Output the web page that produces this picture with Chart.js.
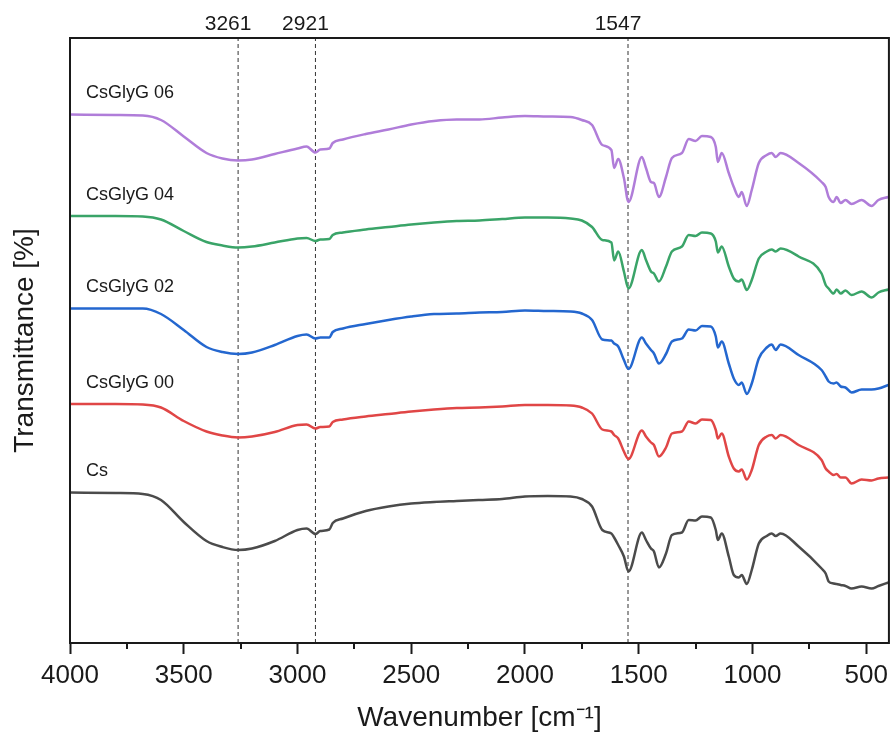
<!DOCTYPE html>
<html>
<head>
<meta charset="utf-8">
<script src="https://cdn.jsdelivr.net/npm/chart.js@4.4.1/dist/chart.umd.min.js"></script>
<style>
  html, body { margin: 0; padding: 0; background: #fff; }
  #wrap { width: 894px; height: 740px; }
</style>
</head>
<body>
<div id="wrap"><canvas id="chart"></canvas></div>
<script>
// FTIR spectra, wavenumber in cm-1 (shared grid), transmittance in a.u. (offset stacks)
const wavenumbers = [4000, 3800, 3680, 3600, 3500, 3400, 3330, 3261, 3200, 3100,
  3000, 2960, 2921, 2900, 2860, 2845, 2800, 2700, 2600, 2500,
  2400, 2300, 2200, 2100, 2000, 1900, 1800, 1750, 1705, 1660,
  1620, 1608, 1590, 1565, 1545, 1486, 1468, 1446, 1433, 1411,
  1380, 1354, 1310, 1280, 1250, 1222, 1183, 1161, 1152, 1135,
  1104, 1082, 1060, 1047, 1025, 1003, 972, 937, 915, 898,
  876, 797, 696, 678, 665, 643, 630, 612, 591, 564,
  520, 476, 446, 402];

const csGlyG06 = [105.7, 105.6, 105.5, 104.6, 101.3, 98.0, 96.9, 96.5, 96.7, 97.8,
  98.9, 99.3, 98.1, 98.7, 98.9, 100.0, 100.7, 101.8, 102.7, 103.7,
  104.4, 104.7, 104.7, 105.1, 105.4, 105.3, 105.2, 104.6, 103.6, 99.6,
  98.6, 95.0, 96.8, 93.0, 88.2, 97.2, 95.0, 92.2, 92.0, 89.2,
  93.2, 97.0, 98.0, 100.8, 100.4, 101.4, 101.2, 99.2, 96.2, 98.0,
  94.0, 91.2, 89.2, 90.2, 87.4, 90.6, 96.0, 97.6, 98.0, 97.2,
  98.0, 96.0, 92.2, 91.2, 89.2, 88.2, 89.2, 88.0, 88.6, 87.8,
  88.6, 87.4, 88.6, 89.2];

const csGlyG04 = [85.4, 85.4, 85.3, 84.7, 82.4, 80.2, 79.5, 79.1, 79.3, 80.1,
  80.9, 81.0, 80.4, 80.7, 80.8, 81.6, 82.1, 82.7, 83.2, 83.7,
  84.1, 84.4, 84.5, 84.8, 85.1, 85.1, 84.9, 84.5, 83.2, 80.6,
  80.1, 76.5, 78.3, 74.3, 70.9, 78.6, 76.6, 74.3, 73.9, 72.3,
  75.3, 78.3, 79.3, 81.6, 81.4, 82.1, 81.9, 80.3, 78.1, 79.3,
  75.3, 72.9, 72.3, 72.7, 70.6, 72.6, 76.9, 78.3, 78.7, 78.3,
  78.9, 77.3, 73.9, 71.6, 70.9, 69.9, 70.7, 69.9, 70.5, 69.6,
  70.3, 69.1, 70.1, 70.7];

const csGlyG02 = [66.9, 66.9, 66.9, 65.8, 62.6, 59.2, 58.2, 57.8, 58.1, 59.6,
  61.4, 61.7, 60.9, 61.1, 61.1, 62.2, 62.9, 63.8, 64.6, 65.3,
  65.8, 65.9, 66.1, 66.2, 66.5, 66.4, 66.3, 65.9, 64.6, 60.7,
  60.5, 59.9, 59.3, 56.6, 54.8, 61.1, 59.9, 58.6, 57.9, 55.9,
  57.8, 60.3, 60.9, 62.7, 62.5, 63.4, 63.3, 61.3, 59.1, 60.3,
  55.9, 52.9, 51.6, 52.1, 49.8, 51.9, 56.9, 59.1, 59.7, 58.6,
  59.7, 57.6, 54.6, 53.3, 52.3, 51.9, 52.1, 51.3, 51.1, 50.1,
  50.7, 50.7, 50.9, 51.6];

const csGlyG00 = [47.8, 47.8, 47.7, 47.1, 44.4, 42.3, 41.5, 41.1, 41.3, 42.2,
  43.6, 43.7, 42.9, 43.2, 43.3, 44.2, 44.7, 45.3, 45.8, 46.3,
  46.7, 47.0, 47.1, 47.3, 47.6, 47.6, 47.5, 47.1, 45.9, 42.7,
  42.3, 41.6, 40.9, 38.3, 36.8, 42.5, 41.3, 40.1, 39.6, 37.3,
  39.1, 41.9, 42.3, 44.3, 43.9, 44.7, 44.6, 42.6, 40.9, 41.9,
  37.3, 34.9, 34.3, 34.7, 32.7, 34.6, 39.6, 41.3, 41.6, 40.9,
  41.6, 39.6, 36.6, 34.9, 34.3, 33.6, 33.8, 33.1, 33.1, 31.9,
  32.7, 32.5, 32.9, 33.1];

const cs = [30.1, 30.0, 29.8, 28.6, 24.2, 20.4, 19.2, 18.6, 18.9, 20.4,
  22.6, 22.9, 21.8, 22.4, 22.7, 24.0, 24.9, 26.4, 27.3, 27.9,
  28.2, 28.4, 28.6, 28.8, 29.3, 29.4, 29.3, 28.8, 27.3, 22.6,
  21.9, 21.1, 19.6, 17.3, 14.3, 22.1, 20.6, 18.9, 18.3, 15.1,
  17.9, 21.6, 22.1, 24.6, 24.5, 25.3, 25.1, 22.6, 20.6, 21.9,
  17.3, 13.6, 13.1, 13.6, 11.8, 14.6, 19.9, 21.4, 21.9, 21.4,
  21.9, 19.3, 14.9, 13.9, 12.3, 11.9, 11.8, 11.6, 11.4, 10.9,
  11.3, 10.9, 11.4, 12.1];

const seriesNames = ['CsGlyG 06', 'CsGlyG 04', 'CsGlyG 02', 'CsGlyG 00', 'Cs'];
const seriesValues = [csGlyG06, csGlyG04, csGlyG02, csGlyG00, cs];
const seriesColors = ['#b07dd9', '#3aa468', '#2467cf', '#e04646', '#4b4b4b'];

const peakPositions = [3261, 2921, 1547];
const xMajorTicks = [4000, 3500, 3000, 2500, 2000, 1500, 1000, 500];
const xMinorTicks = [3750, 3250, 2750, 2250, 1750, 1250, 750];

const FONT = "'Liberation Sans', Arial, sans-serif";
const yMin = 0, yMax = 121;

const datasets = seriesValues.map((vals, i) => ({
  label: seriesNames[i],
  data: wavenumbers.map((w, j) => ({ x: w, y: vals[j] })),
  borderColor: seriesColors[i],
  borderWidth: 2.5,
  pointRadius: 0,
  cubicInterpolationMode: 'monotone',
  fill: false
}));

// dashed marker lines at the labelled peaks
peakPositions.forEach(p => {
  datasets.push({
    label: 'peak ' + p,
    data: [{ x: p, y: yMin }, { x: p, y: yMax }],
    borderColor: '#333',
    borderWidth: 1,
    borderDash: [4, 3],
    pointRadius: 0,
    fill: false
  });
});

// frame, minor ticks and curve labels
const decorations = {
  id: 'decorations',
  afterDraw(chart) {
    const { ctx, chartArea: a, scales } = chart;
    const x = scales.x;
    ctx.save();
    ctx.strokeStyle = '#1a1a1a';
    ctx.lineWidth = 2;
    ctx.strokeRect(a.left, a.top, a.right - a.left, a.bottom - a.top);
    xMinorTicks.forEach(v => {
      const px = Math.round(x.getPixelForValue(v));
      ctx.beginPath();
      ctx.moveTo(px, a.bottom);
      ctx.lineTo(px, a.bottom + 6);
      ctx.stroke();
    });
    ctx.fillStyle = '#1a1a1a';
    ctx.font = '18px ' + FONT;
    ctx.textAlign = 'left';
    ctx.textBaseline = 'middle';
    seriesNames.forEach((name, i) => {
      const first = chart.getDatasetMeta(i).data[0];
      ctx.fillText(name, x.getPixelForValue(3930), first.y - 21);
    });
    ctx.restore();
  }
};

new Chart(document.getElementById('chart'), {
  type: 'line',
  data: { datasets },
  options: {
    responsive: true,
    maintainAspectRatio: false,
    animation: false,
    layout: { padding: { left: 0, right: 4, top: 0, bottom: 0 } },
    plugins: {
      legend: { display: false },
      tooltip: { enabled: false }
    },
    scales: {
      x: {
        type: 'linear',
        position: 'bottom',
        min: 400,
        max: 4000,
        reverse: true,
        afterBuildTicks: axis => { axis.ticks = xMajorTicks.map(v => ({ value: v })); },
        afterFit: scale => { scale.height = 97; },
        grid: {
          drawOnChartArea: false,
          drawTicks: true,
          tickLength: 11,
          tickWidth: 2,
          tickColor: '#1a1a1a'
        },
        border: { display: false },
        ticks: {
          padding: 6,
          color: '#1a1a1a',
          font: { family: FONT, size: 26 },
          maxRotation: 0,
          callback: v => String(v)
        },
        title: {
          display: true,
          text: 'Wavenumber [cm\u207B\u00B9]',
          color: '#1a1a1a',
          font: { family: FONT, size: 28 },
          padding: { top: 0, bottom: 5 }
        }
      },
      xTop: {
        type: 'linear',
        position: 'top',
        min: 400,
        max: 4000,
        reverse: true,
        afterBuildTicks: axis => { axis.ticks = peakPositions.map(v => ({ value: v })); },
        afterFit: scale => { scale.height = 38; },
        grid: { display: false, drawTicks: false },
        border: { display: false },
        ticks: {
          padding: 1,
          labelOffset: -10,
          color: '#1a1a1a',
          font: { family: FONT, size: 21 },
          maxRotation: 0,
          callback: v => String(v)
        }
      },
      y: {
        min: yMin,
        max: yMax,
        afterFit: scale => { scale.width = 70; },
        grid: { display: false },
        border: { display: false },
        ticks: { display: false },
        title: {
          display: true,
          text: 'Transmittance [%]',
          color: '#1a1a1a',
          font: { family: FONT, size: 28 },
          padding: { top: 8, bottom: 0 }
        }
      }
    }
  },
  plugins: [decorations]
});
</script>
</body>
</html>
